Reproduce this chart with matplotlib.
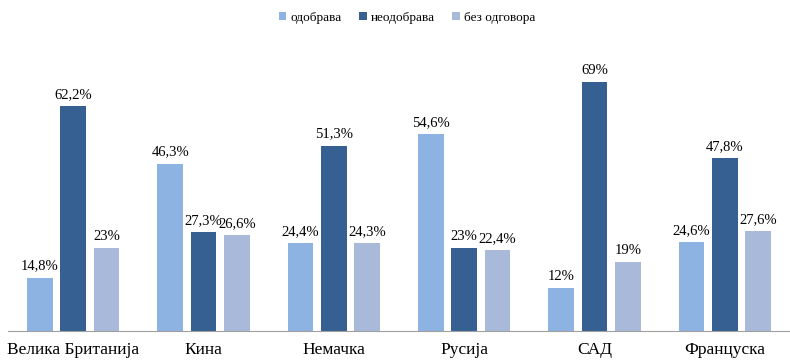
import matplotlib
matplotlib.use("Agg")
import matplotlib.pyplot as plt
import numpy as np

categories = ["Велика Британија", "Кина", "Немачка", "Русија", "САД", "Француска"]
series_names = ["одобрава", "неодобрава", "без одговора"]
odobrava = [14.8, 46.3, 24.4, 54.6, 12, 24.6]
neodobrava = [62.2, 27.3, 51.3, 23, 69, 47.8]
bez = [23, 26.6, 24.3, 22.4, 19, 27.6]
colors = ["#8DB3E2", "#366092", "#A8B9DA"]

def fmt(v):
    s = ("%g" % v).replace(".", ",")
    return s + "%"

plt.rcParams['font.family'] = ['Liberation Serif', 'DejaVu Serif']
fig = plt.figure(figsize=(7.9, 3.63), dpi=100)
ax = fig.add_axes([8/790, 32/363, 782/790, 289/363])
x = np.arange(len(categories))
w = 0.197
off = 0.255
for i, (vals, name) in enumerate(zip([odobrava, neodobrava, bez], series_names)):
    bars = ax.bar(x + (i - 1) * off, vals, width=w, color=colors[i], label=name)
    for b, v in zip(bars, vals):
        ax.text(b.get_x() + b.get_width()/2, v + 1.4, fmt(v), ha='center', va='bottom', fontsize=10.5)
ax.set_xlim(-0.5, len(categories) - 0.5)
ax.set_ylim(0, 80)
ax.set_yticks([])
for s in ['left', 'right', 'top']:
    ax.spines[s].set_visible(False)
ax.spines['bottom'].set_color('#A0A0A0')
ax.set_xticks(x)
ax.set_xticklabels(categories, fontsize=12.5)
ax.tick_params(axis='x', length=0, pad=8)
leg = fig.legend(loc='upper center', bbox_to_anchor=(0.515, 1.0), ncol=3, frameon=False,
                 fontsize=9.5, handlelength=0.6, handleheight=0.6, handletextpad=0.3, columnspacing=1.3)
fig.savefig("out.png", dpi=100)
